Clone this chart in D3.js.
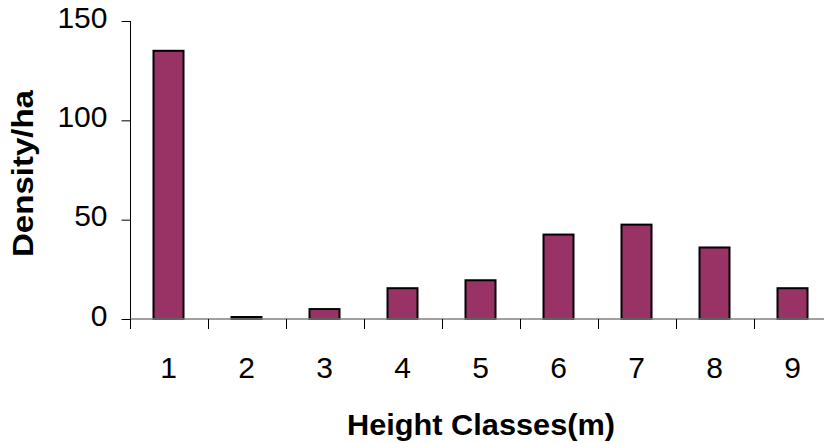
<!DOCTYPE html>
<html><head><meta charset="utf-8">
<script src="https://cdn.jsdelivr.net/npm/d3@7"></script>
<style>html,body{margin:0;padding:0;background:#fff;overflow:hidden}</style>
</head><body>
<svg id="c" width="824" height="444"></svg>
<script>
const categories = ["1","2","3","4","5","6","7","8","9"];
const values = [135, 1, 5, 15.5, 19.5, 42.5, 47.5, 36, 15.5];
const yTicks = [0, 50, 100, 150];
const xTitle = "Height Classes(m)";
const yTitle = "Density/ha";

const svg = d3.select("#c");
const font = "Liberation Sans, Arial, sans-serif";
const x = d3.scaleBand().domain(categories).range([130.5, 832.5]).padding(0);
const y = d3.scaleLinear().domain([0, 150]).range([319, 21]);

// bars
svg.append("g").selectAll("rect").data(values).join("rect")
  .attr("x", (d, i) => x(categories[i]) + x.bandwidth() / 2 - 16)
  .attr("width", 30)
  .attr("y", d => y(d))
  .attr("height", d => y(0) - y(d))
  .attr("fill", "#993366")
  .attr("stroke", "#000")
  .attr("stroke-width", 2);

// y axis
const ya = svg.append("g").attr("transform", "translate(130.5,0)")
  .call(d3.axisLeft(y).tickValues(yTicks).tickSize(9).tickPadding(14));
ya.select(".domain").attr("stroke", "#000").attr("d", `M0,${y(150)}V${y(0)}`);
ya.selectAll(".tick line").attr("stroke", "#000");
ya.selectAll("text").attr("font-family", font).attr("font-size", 30).attr("fill", "#000").attr("dy", "0.2em");

// x axis
const xa = svg.append("g").attr("transform", `translate(0,${y(0)})`);
xa.append("line").attr("x1", 130.5).attr("x2", 824).attr("stroke", "#808080").attr("stroke-width", 1.5);
xa.selectAll("line.t").data(categories.concat(["end"])).join("line").attr("class", "t")
  .attr("x1", (d, i) => 130.5 + i * x.bandwidth())
  .attr("x2", (d, i) => 130.5 + i * x.bandwidth())
  .attr("y1", 0).attr("y2", 10).attr("stroke", "#000");
xa.selectAll("text").data(categories).join("text")
  .attr("x", d => x(d) + x.bandwidth() / 2 - 1)
  .attr("y", 59)
  .attr("text-anchor", "middle")
  .attr("font-family", font).attr("font-size", 30).attr("fill", "#000")
  .text(d => d);

// titles
svg.append("text").attr("x", 481).attr("y", 435).attr("text-anchor", "middle")
  .attr("font-family", font).attr("font-size", 29).attr("font-weight", "bold")
  .attr("textLength", 268).attr("lengthAdjust", "spacingAndGlyphs")
  .text(xTitle);
svg.append("text").attr("transform", "translate(33,173.5) rotate(-90)").attr("text-anchor", "middle")
  .attr("font-family", font).attr("font-size", 29).attr("font-weight", "bold")
  .attr("textLength", 167).attr("lengthAdjust", "spacingAndGlyphs")
  .text(yTitle);
</script>
</body></html>
